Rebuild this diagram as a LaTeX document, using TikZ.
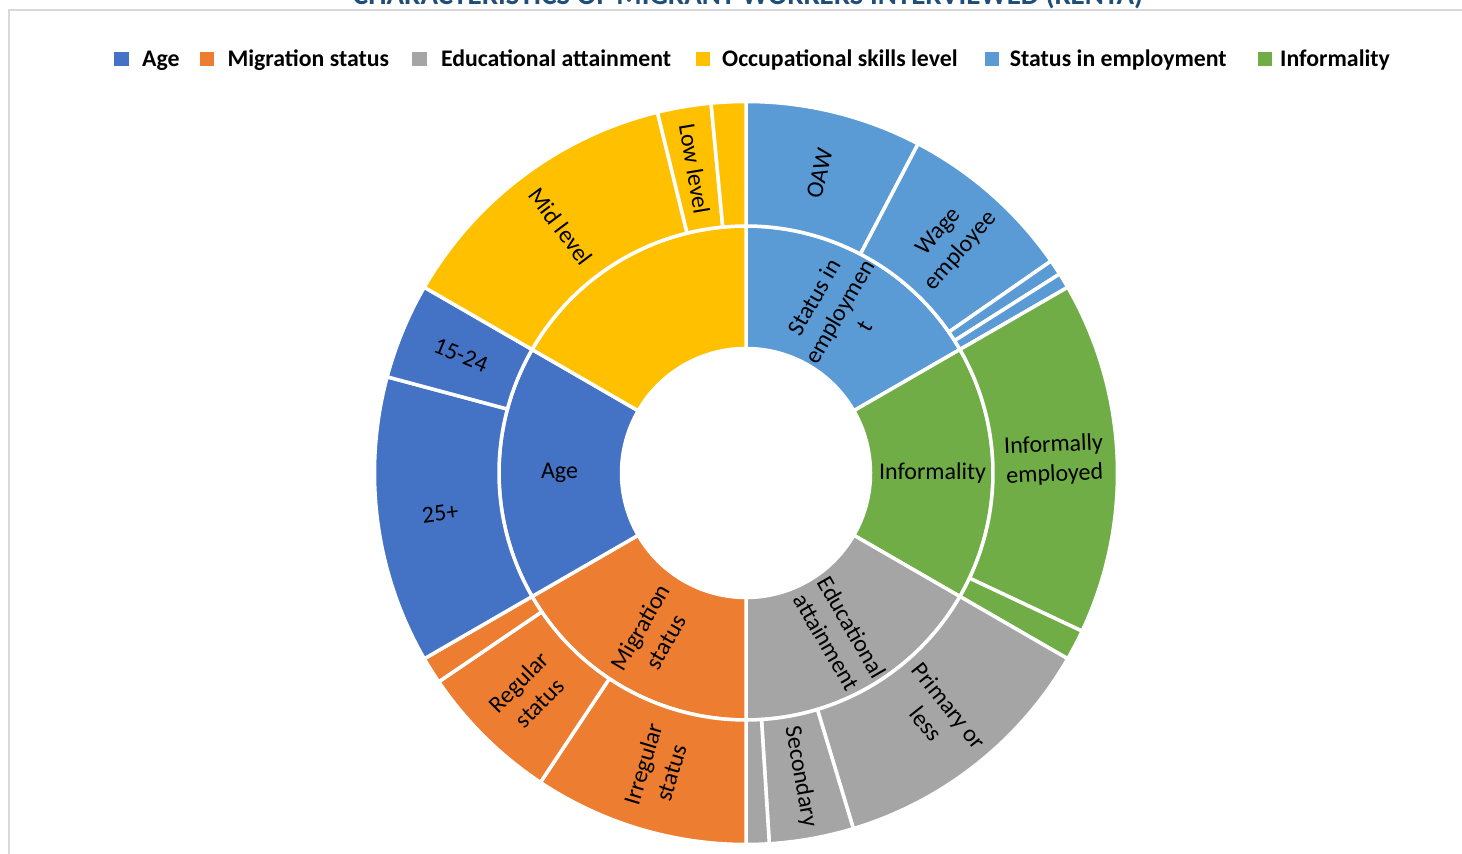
\documentclass[tikz,border=0pt]{standalone}
\usepackage{fontspec}
\setmainfont{Carlito}
\definecolor{cage}{HTML}{4472C4}
\definecolor{cmig}{HTML}{ED7D31}
\definecolor{cedu}{HTML}{A5A5A5}
\definecolor{cocc}{HTML}{FFC000}
\definecolor{csta}{HTML}{5B9BD5}
\definecolor{cinf}{HTML}{70AD47}
\definecolor{titlec}{HTML}{1F4E79}
\definecolor{framec}{HTML}{D9D9D9}
\newcommand\sunseg[5]{\path[seg,fill=#5] (#3:#1pt) arc[start angle=#3,end angle=#4,radius=#1pt] -- (#4:#2pt) arc[start angle=#4,end angle=#3,radius=#2pt] -- cycle;}
\begin{document}
\begin{tikzpicture}[x=1pt,y=1pt,
  seg/.style={draw=white,line width=3.5pt,line join=round},
  lab/.style={font=\fontsize{24}{29.3}\selectfont,text=black,align=center,inner sep=0pt},
  leg/.style={font=\bfseries\fontsize{23.8}{28}\selectfont,anchor=base west,inner sep=0pt,text=black},
  legbox/.style={minimum width=14.5pt,minimum height=14pt,inner sep=0pt}
]
\useasboundingbox (0,0) rectangle (1462,854);
\fill[white] (0,0) rectangle (1462,854);
\draw[framec,line width=1.5pt] (9,0) -- (9,844) -- (1462,844);
\node[anchor=base,font=\bfseries\fontsize{29}{34}\selectfont,text=titlec,inner sep=0pt] (title) at (748,849) {CHARACTERISTICS OF MIGRANT WORKERS INTERVIEWED (KENYA)};

% legend
\node[legbox,fill=cage] (kage) at (121.5,795) {};
\node[leg] (tage) at (142,787) {Age};
\node[legbox,fill=cmig] (kmig) at (207.2,795) {};
\node[leg] (tmig) at (227.3,787) {Migration status};
\node[legbox,fill=cedu] (kedu) at (419.5,795) {};
\node[leg] (tedu) at (440.8,787) {Educational attainment};
\node[legbox,fill=cocc] (kocc) at (703,795) {};
\node[leg] (tocc) at (722,787) {Occupational skills level};
\node[legbox,fill=csta] (ksta) at (992,795) {};
\node[leg] (tsta) at (1009.7,787) {Status in employment};
\node[legbox,fill=cinf] (kinf) at (1265,795) {};
\node[leg] (tinf) at (1280,787) {Informality};

\begin{scope}[shift={(746,381)}]
% inner ring
\sunseg{124.5}{247}{90}{30}{csta}
\sunseg{124.5}{247}{30}{-30}{cinf}
\sunseg{124.5}{247}{-30}{-90}{cedu}
\sunseg{124.5}{247}{-90}{-150}{cmig}
\sunseg{124.5}{247}{-150}{-210}{cage}
\sunseg{124.5}{247}{150}{90}{cocc}
% outer ring
\sunseg{247}{371.5}{90}{62.4}{csta}
\sunseg{247}{371.5}{62.4}{34.8}{csta}
\sunseg{247}{371.5}{34.8}{32.4}{csta}
\sunseg{247}{371.5}{32.4}{30}{csta}
\sunseg{247}{371.5}{30}{-25.2}{cinf}
\sunseg{247}{371.5}{-25.2}{-30}{cinf}
\sunseg{247}{371.5}{-30}{-73.2}{cedu}
\sunseg{247}{371.5}{-73.2}{-86.4}{cedu}
\sunseg{247}{371.5}{-86.4}{-90}{cedu}
\sunseg{247}{371.5}{-90}{-123.6}{cmig}
\sunseg{247}{371.5}{-123.6}{-145.8}{cmig}
\sunseg{247}{371.5}{-145.8}{-150}{cmig}
\sunseg{247}{371.5}{-150}{-195}{cage}
\sunseg{247}{371.5}{-195}{-210}{cage}
\sunseg{247}{371.5}{150}{103.8}{cocc}
\sunseg{247}{371.5}{103.8}{95.4}{cocc}
\sunseg{247}{371.5}{95.4}{90}{cocc}
% inner labels
\node[lab,rotate=60] (lsta) at (60:186.5pt) {Status in\\employmen\\t};
\node[lab] (linf) at (0:186.5pt) {Informality};
\node[lab,rotate=-60] (ledu) at (-60:186.5pt) {Educational\\attainment};
\node[lab,rotate=60] (lmig) at (-120:186.5pt) {Migration\\status};
\node[lab] (lage) at (180:186.5pt) {Age};
% outer labels
\node[lab,rotate=76.2] (loaw) at (76.2:308.5pt) {OAW};
\node[lab,rotate=48.6] (lwage) at (48.6:308.5pt) {Wage\\employee};
\node[lab,rotate=2.4] (lie) at (2.4:308.5pt) {Informally\\employed};
\node[lab,rotate=-51.6] (lprim) at (-51.6:308.5pt) {Primary or\\less};
\node[lab,rotate=-79.8] (lsec) at (-79.8:308.5pt) {Secondary};
\node[lab,rotate=73.2] (lirr) at (-106.8:308.5pt) {Irregular\\status};
\node[lab,rotate=45.3] (lreg) at (-134.7:308.5pt) {Regular\\status};
\node[lab,rotate=7.5] (l25) at (187.5:308.5pt) {25+};
\node[lab,rotate=-22.5] (l1524) at (157.5:308.5pt) {15-24};
\node[lab,rotate=-53.1] (lmid) at (126.9:308.5pt) {Mid level};
\node[lab,rotate=-80.4] (llow) at (99.6:308.5pt) {Low level};
\end{scope}
\end{tikzpicture}
\end{document}
